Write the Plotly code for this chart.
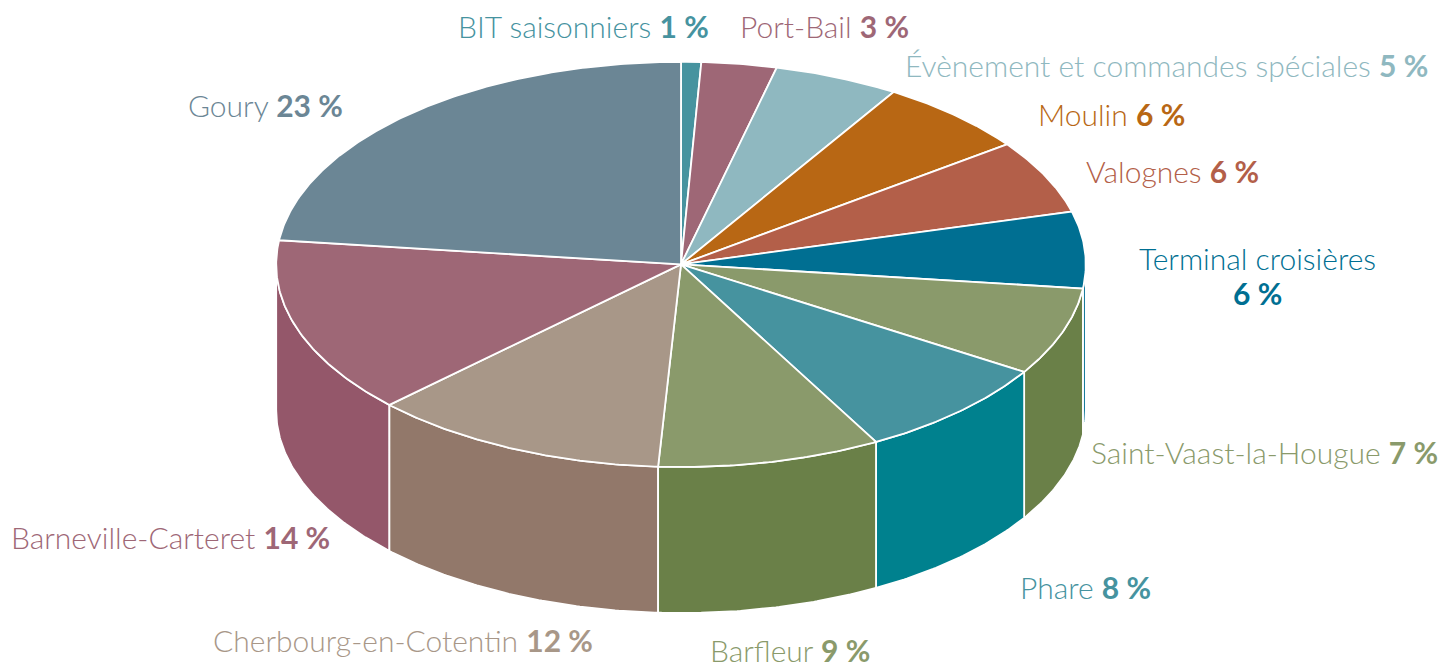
import numpy as np
import plotly.graph_objects as go

# Data, clockwise from 12 o'clock
categories = ["BIT saisonniers", "Port-Bail", "Évènement et commandes spéciales", "Moulin", "Valognes",
              "Terminal croisières", "Saint-Vaast-la-Hougue", "Phare", "Barfleur",
              "Cherbourg-en-Cotentin", "Barneville-Carteret", "Goury"]
shares = [0.8, 3.0, 5.0, 6.1, 5.9, 6.1, 7.0, 8.1, 8.9, 11.9, 14.1, 23.1]
share_labels = ["1 %", "3 %", "5 %", "6 %", "6 %", "6 %", "7 %", "8 %", "9 %", "12 %", "14 %", "23 %"]

# Styles
top_colors = ["#46939f", "#9e6776", "#8fb8c0", "#b86714", "#b35f49", "#006f92",
              "#8a9a6b", "#46939f", "#8a9a6b", "#a89788", "#9e6776", "#6b8695"]
wall_colors = ["#46939f", "#9e6776", "#8fb8c0", "#b86714", "#b35f49", "#006f92",
               "#6a8048", "#00818e", "#6a8048", "#92786a", "#94576a", "#6b8695"]
label_x = [583.5, 824, 1166, 1111, 1172.5, 1257, 1264.5, 1085.5, 789.5, 403, 170, 265]
label_y = [26, 26, 65, 114, 171, 258, 452, 587, 650, 640, 537, 105]
WRAPPED = "Terminal croisières"
WRAPPED_SHARE_Y = 293

CX, CY, RX, RY, DEPTH = 681, 264.4, 404.8, 202.6, 146
PAGE_MARGIN = 8  # the page body offsets the figure by this much


def arc(a, b, dy=0.0):
    t = np.radians(np.linspace(a, b, max(int(abs(b - a) * 2), 2)))
    return CX + RX * np.sin(t), CY + dy - RY * np.cos(t)


edges = np.cumsum([0.0] + shares) / sum(shares) * 360
fig = go.Figure()

# Side walls: only the front half of the drum (90° to 270°), back to front
walls = []
for i, name in enumerate(categories):
    a, b = max(edges[i], 90), min(edges[i + 1], 270)
    if b > a:
        walls.append((i, a, b))
walls.sort(key=lambda w: abs((w[1] + w[2]) / 2 - 180), reverse=True)
for i, a, b in walls:
    xt, yt = arc(a, b)
    xb, yb = arc(b, a, DEPTH)
    fig.add_trace(go.Scatter(x=np.r_[xt, xb, xt[0]], y=np.r_[yt, yb, yt[0]], mode="lines", fill="toself",
                             fillcolor=wall_colors[i], line=dict(color="white", width=1.8),
                             hoverinfo="skip", showlegend=False))

# Top face
for i, name in enumerate(categories):
    xt, yt = arc(edges[i], edges[i + 1])
    fig.add_trace(go.Scatter(x=np.r_[CX, xt, CX], y=np.r_[CY, yt, CY], mode="lines", fill="toself",
                             fillcolor=top_colors[i], line=dict(color="white", width=1.8),
                             name=name, hoverinfo="name", showlegend=False))


def label(x, y, text, color):
    fig.add_annotation(x=x, y=y, text=text, showarrow=False, xanchor="center", yanchor="middle",
                       align="center", font=dict(family="Lato", size=30, color=color, weight=300))


for i, name in enumerate(categories):
    share = f"<b>{share_labels[i]}</b>"
    if name == WRAPPED:
        label(label_x[i], label_y[i], name, top_colors[i])
        label(label_x[i], WRAPPED_SHARE_Y, share, top_colors[i])
    else:
        label(label_x[i], label_y[i], f"{name} {share}", top_colors[i])

fig.update_xaxes(visible=False, range=[PAGE_MARGIN, 1446 + PAGE_MARGIN], fixedrange=True)
fig.update_yaxes(visible=False, range=[668 + PAGE_MARGIN, PAGE_MARGIN], fixedrange=True)
fig.update_layout(width=1446, height=668, margin=dict(l=0, r=0, t=0, b=0),
                  plot_bgcolor="white", paper_bgcolor="white")
fig.write_html("out.html", config={"displayModeBar": False})
